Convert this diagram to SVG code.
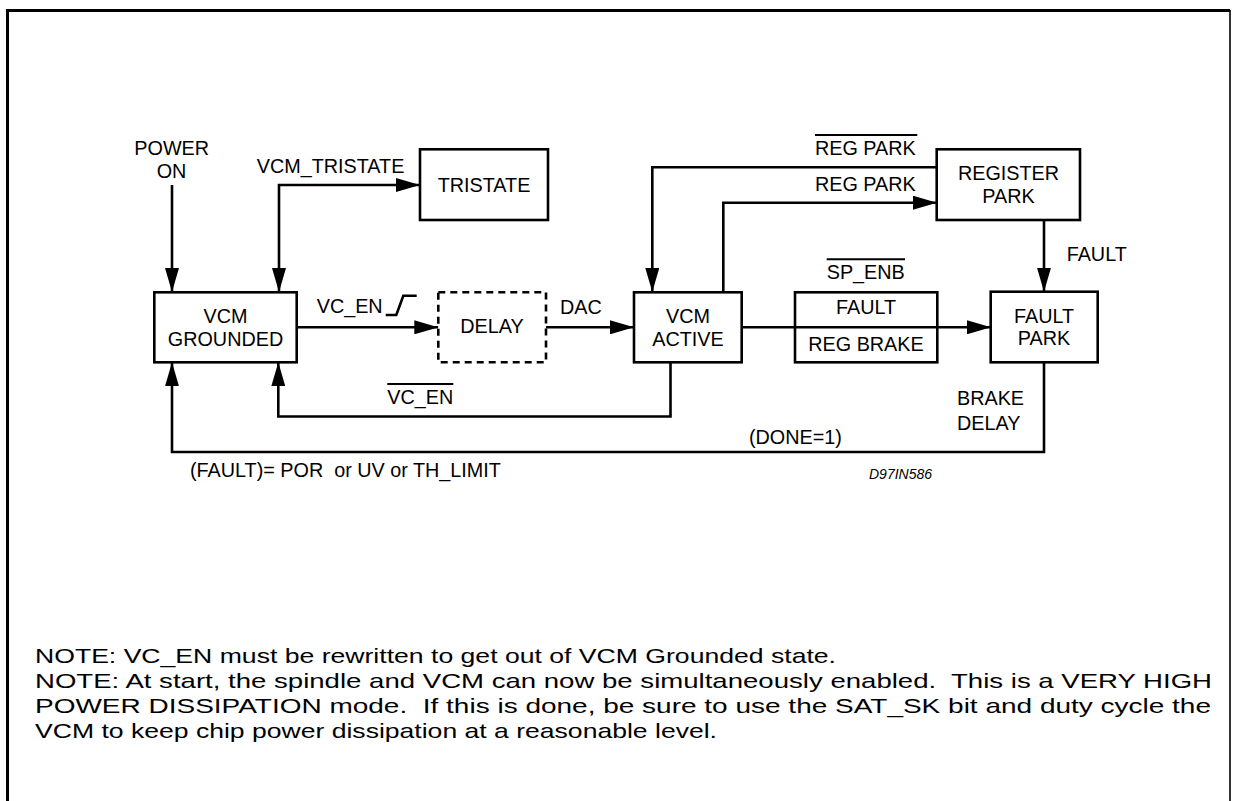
<svg xmlns="http://www.w3.org/2000/svg" width="1233" height="801" viewBox="0 0 1233 801">
<style>
.box{fill:#fff;stroke:#000;stroke-width:2.6}
.dash{fill:#fff;stroke:#000;stroke-width:2.6;stroke-dasharray:7 5}
.wire{fill:none;stroke:#000;stroke-width:2.6}
.ovl{stroke:#000;stroke-width:2}
text{font-family:"Liberation Sans",Arial,Helvetica,sans-serif;font-size:19.8px;fill:#000}
.c{text-anchor:middle}
.code{font-size:14px;font-style:italic}
.note{font-size:21px}
</style>
<defs>
<marker id="arr" markerUnits="userSpaceOnUse" markerWidth="24" markerHeight="14" refX="24" refY="7" orient="auto-start-reverse" viewBox="0 0 24 14">
<path d="M0,0 L24,7 L0,14 z" fill="#000"/>
</marker>
</defs>
<rect width="1233" height="801" fill="#fff"/>
<g id="frame">
<path d="M7.5,801 V10.5 H1230" fill="none" stroke="#000" stroke-width="3"/>
<path d="M1230,10 V801" fill="none" stroke="#000" stroke-width="1.6"/>
</g>
<g id="connectors">
<path class="wire" d="M172,185 V292" marker-end="url(#arr)"/>
<path class="wire" d="M279,292 V185 H420" marker-start="url(#arr)" marker-end="url(#arr)"/>
<path class="wire" d="M297,327.3 H438.3" marker-end="url(#arr)"/>
<path class="wire" d="M546,327.3 H634" marker-end="url(#arr)"/>
<path class="wire" d="M742,327.3 H991" marker-end="url(#arr)"/>
<path class="wire" d="M937,167.3 H652.3 V292" marker-end="url(#arr)"/>
<path class="wire" d="M723.3,292 V202.7 H937" marker-end="url(#arr)"/>
<path class="wire" d="M1044,220 V291.7" marker-end="url(#arr)"/>
<path class="wire" d="M670.5,362.3 V416.5 H278.3 V362.3" marker-end="url(#arr)"/>
<path class="wire" d="M1044,362.3 V452 H172 V362.3" marker-end="url(#arr)"/>
</g>
<g id="tristate">
<rect class="box" x="420" y="149.3" width="128" height="70.7"/>
<text class="c" x="484" y="191.5">TRISTATE</text>
</g>
<g id="vcm-grounded">
<rect class="box" x="154.3" y="292.3" width="142.4" height="70"/>
<text class="c" x="225.5" y="323.3">VCM</text>
<text class="c" x="225.5" y="345.7">GROUNDED</text>
</g>
<g id="delay">
<rect class="dash" x="438.3" y="292.3" width="107.7" height="70"/>
<text class="c" x="492" y="332.7">DELAY</text>
</g>
<g id="vcm-active">
<rect class="box" x="634" y="292.3" width="107.7" height="70"/>
<text class="c" x="688" y="322.7">VCM</text>
<text class="c" x="688" y="345.7">ACTIVE</text>
</g>
<g id="fault-regbrake">
<rect class="box" x="795" y="292.3" width="142.3" height="70"/>
<line class="wire" x1="795" y1="327.3" x2="937.3" y2="327.3"/>
<text class="c" x="866" y="314.3">FAULT</text>
<text class="c" x="866" y="350.7">REG BRAKE</text>
</g>
<g id="register-park">
<rect class="box" x="936.7" y="149.3" width="143.3" height="70.7"/>
<text class="c" x="1008.5" y="180">REGISTER</text>
<text class="c" x="1008.5" y="203.3">PARK</text>
</g>
<g id="fault-park">
<rect class="box" x="990.7" y="291.7" width="107" height="70.6"/>
<text class="c" x="1044" y="322.7">FAULT</text>
<text class="c" x="1044" y="345">PARK</text>
</g>
<g id="labels">
<text class="c" x="171.7" y="155">POWER</text>
<text class="c" x="171.5" y="178.3">ON</text>
<text x="256.7" y="172.7">VCM_TRISTATE</text>
<text x="316.7" y="313.3">VC_EN</text>
<path class="wire" d="M385.7,315 H396.3 L403.3,295.7 H416.7" stroke-width="2.2"/>
<text x="560" y="314.3">DAC</text>
<text x="815" y="155">REG PARK</text>
<line class="ovl" x1="815" y1="135" x2="917.3" y2="135"/>
<text x="815" y="190.7">REG PARK</text>
<text x="826.7" y="279.3">SP_ENB</text>
<line class="ovl" x1="826.7" y1="259.3" x2="905" y2="259.3"/>
<text x="1066.7" y="261">FAULT</text>
<text x="387.3" y="404">VC_EN</text>
<line class="ovl" x1="387.3" y1="384" x2="453.3" y2="384"/>
<text x="957" y="405">BRAKE</text>
<text x="957" y="429.5">DELAY</text>
<text x="749" y="444">(DONE=1)</text>
<text x="190" y="476.7" xml:space="preserve">(FAULT)= POR  or UV or TH_LIMIT</text>
<text class="code" x="869" y="478.6">D97IN586</text>
</g>
<g id="notes">
<text class="note" x="35" y="663.3" textLength="801" lengthAdjust="spacingAndGlyphs">NOTE: VC_EN must be rewritten to get out of VCM Grounded state.</text>
<text class="note" x="35" y="688.3" textLength="1177" lengthAdjust="spacingAndGlyphs" xml:space="preserve">NOTE: At start, the spindle and VCM can now be simultaneously enabled.  This is a VERY HIGH</text>
<text class="note" x="35" y="713.3" textLength="1176" lengthAdjust="spacingAndGlyphs" xml:space="preserve">POWER DISSIPATION mode.  If this is done, be sure to use the SAT_SK bit and duty cycle the</text>
<text class="note" x="35" y="738.3" textLength="682" lengthAdjust="spacingAndGlyphs">VCM to keep chip power dissipation at a reasonable level.</text>
</g>
</svg>
